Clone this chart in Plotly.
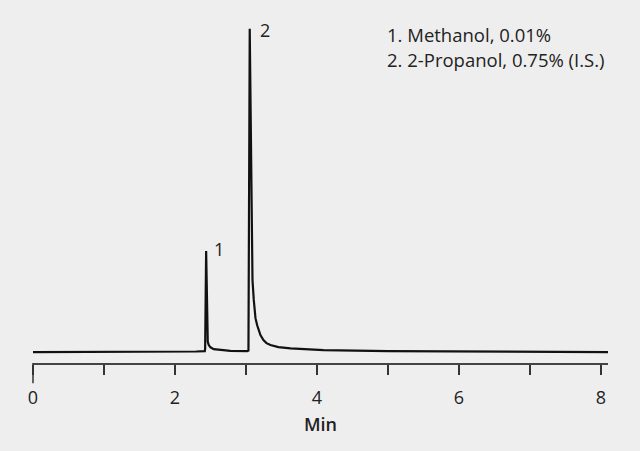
import plotly.graph_objects as go

# chromatogram trace (min, detector signal)
times = [0.0, 1.0, 2.0, 2.2, 2.3, 2.42, 2.425, 2.439, 2.447, 2.456, 2.462, 2.476, 2.50,
         2.546, 2.64, 2.78, 3.017, 3.035, 3.053, 3.066, 3.073, 3.077, 3.092, 3.110,
         3.134, 3.158, 3.180, 3.204, 3.246, 3.289, 3.345, 3.458, 3.627, 3.838, 4.092,
         5.0, 6.5, 8.1]
signal = [0.0, 0.0, 0.0, 0.1, 0.2, 0.3, 1.1, 31.6, 20.9, 8.0, 3.2, 2.2, 1.5,
          0.94, 0.63, 0.4, 0.3, 0.5, 101.0, 75.0, 54.7, 31.9, 22.5, 16.3,
          10.6, 8.4, 6.9, 5.3, 3.75, 2.8, 2.2, 1.56, 1.15, 0.87, 0.6,
          0.3, 0.15, 0.0]

peak_labels = ["1", "2"]
peak_times = [2.439, 3.053]
peak_heights = [31.6, 101.0]
label_shift = [(6, 2), (8, -1)]

legend_lines = ["1. Methanol, 0.01%", "2. 2-Propanol, 0.75% (I.S.)"]

tick_vals = [0, 1, 2, 3, 4, 5, 6, 7, 8]
tick_text = ["0", "", "2", "", "4", "", "6", "", "8"]

FONT = "Open Sans"
BG = "#eeeeee"

fig = go.Figure()
fig.add_trace(go.Scatter(x=times, y=signal, mode="lines",
                         line=dict(color="#111111", width=2.2),
                         hoverinfo="skip", showlegend=False))

# peak numbers
for lab, t, h, (dx, dy) in zip(peak_labels, peak_times, peak_heights, label_shift):
    fig.add_annotation(x=t, y=h, text=lab, showarrow=False,
                       xanchor="left", yanchor="middle", xshift=dx, yshift=dy,
                       font=dict(family=FONT, size=18, color="#222222"))

# compound list, top right
for i, line in enumerate(legend_lines):
    fig.add_annotation(xref="paper", yref="paper", x=0.612, y=0.947 - i * 0.072,
                       text=line, showarrow=False, xanchor="left", yanchor="middle",
                       font=dict(family=FONT, size=18.5, color="#222222"))

# longer tick at zero
fig.add_shape(type="line", xref="paper", yref="paper", x0=0, x1=0, y0=0, y1=-0.058,
              line=dict(color="#333333", width=1.5))

fig.update_xaxes(range=[0, 8.1], showgrid=False, zeroline=False,
                 showline=True, linecolor="#444444", linewidth=1.5,
                 ticks="outside", ticklen=10, tickwidth=1.5, tickcolor="#333333",
                 tickvals=tick_vals, ticktext=tick_text, ticklabelstandoff=8,
                 tickfont=dict(family=FONT, size=18, color="#222222"),
                 title=dict(text="Min", standoff=10,
                            font=dict(family=FONT, size=18, color="#222222", weight=600)))
fig.update_yaxes(range=[-3.4, 105], visible=False, showgrid=False, zeroline=False)

fig.update_layout(width=640, height=451,
                  margin=dict(l=32.5, r=32, t=16, b=88),
                  paper_bgcolor=BG, plot_bgcolor=BG,
                  font=dict(family=FONT))

# drop the page's default body margin so the figure sits at the window corner
fig.write_html("out.html", config={"displayModeBar": False},
               post_script="document.body.style.margin='0';document.body.style.background='#eeeeee';")
